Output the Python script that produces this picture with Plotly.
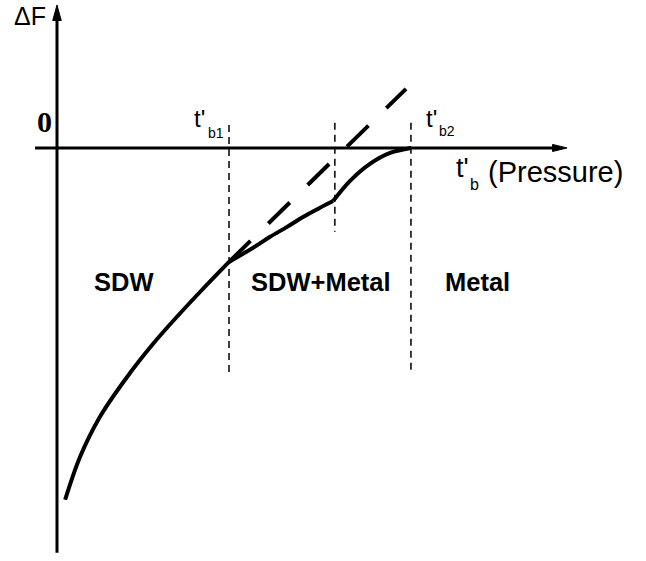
import plotly.graph_objects as go

# Free-energy curve, t'_b scaled so that t'_b2 = 1 (Delta F in the same units)
sdw_t = [0.023, 0.065, 0.121, 0.198, 0.271, 0.328, 0.404, 0.486]
sdw_F = [-0.994, -0.873, -0.760, -0.647, -0.554, -0.489, -0.407, -0.322]
mix_t = [0.486, 0.554, 0.602, 0.650, 0.695, 0.743, 0.780]
mix_F = [-0.322, -0.282, -0.251, -0.223, -0.195, -0.169, -0.150]
met_t = [0.780, 0.828, 0.884, 0.941, 1.0]
met_F = [-0.150, -0.093, -0.045, -0.014, 0.0]
# extrapolated (metastable) branch
ext_t = [0.486, 0.986]
ext_F = [-0.322, 0.167]
# phase boundaries
bound_t = [0.486, 0.785, 1.0]
bound_top = [0.065, 0.071, 0.071]
bound_bot = [-0.633, -0.237, -0.633]
# region labels
region_names = ["SDW", "SDW+Metal", "Metal"]
region_t = [0.189, 0.746, 1.188]
region_F = [-0.378, -0.378, -0.378]

BLACK = "#000000"
SANS = "Liberation Sans"
fig = go.Figure()

for tt, ff in [(sdw_t, sdw_F), (mix_t, mix_F), (met_t, met_F)]:
    fig.add_trace(go.Scatter(x=tt, y=ff, mode="lines",
                             line=dict(color=BLACK, width=4, shape="spline", smoothing=1.0),
                             showlegend=False, hoverinfo="skip"))

fig.add_trace(go.Scatter(x=ext_t, y=ext_F, mode="lines",
                         line=dict(color=BLACK, width=4, dash="30px,25px"),
                         showlegend=False, hoverinfo="skip"))

for bt, b0, b1 in zip(bound_t, bound_top, bound_bot):
    fig.add_trace(go.Scatter(x=[bt, bt], y=[b0, b1], mode="lines",
                             line=dict(color=BLACK, width=1.5, dash="7px,5px"),
                             showlegend=False, hoverinfo="skip"))

shapes = [
    # y axis
    dict(type="line", xref="x", yref="y", x0=0, x1=0, y0=-1.144, y1=0.37,
         line=dict(color=BLACK, width=3)),
    # x axis
    dict(type="line", xref="x", yref="y", x0=-0.062, x1=1.41, y0=0, y1=0,
         line=dict(color=BLACK, width=3)),
    # arrowheads
    dict(type="path", xref="x", yref="y",
         path="M -0.012 0.360 L 0 0.404 L 0.012 0.360 Z",
         fillcolor=BLACK, line=dict(color=BLACK, width=1)),
    dict(type="path", xref="x", yref="y",
         path="M 1.400 -0.010 L 1.441 0 L 1.400 0.010 Z",
         fillcolor=BLACK, line=dict(color=BLACK, width=1)),
]

ann = []
def txt(x, y, s, size, family=SANS, weight="normal", xanchor="left", yanchor="middle"):
    ann.append(dict(x=x, y=y, xref="x", yref="y", text=s, showarrow=False,
                    xanchor=xanchor, yanchor=yanchor,
                    font=dict(family=family, size=size, color=BLACK, weight=weight)))

txt(-0.076, 0.418, "ΔF", 25, xanchor="center", yanchor="top")
txt(-0.035, 0.074, "0", 30, family="Liberation Serif", weight="bold", xanchor="center")
txt(0.381, 0.082, "t'", 24)
txt(0.421, 0.042, "b1", 14)
txt(1.036, 0.082, "t'", 24)
txt(1.073, 0.048, "b2", 14)
txt(1.122, -0.056, "t'", 27)
txt(1.161, -0.104, "b", 16)
txt(1.213, -0.068, "(Pressure)", 29)
for name, rt, rf in zip(region_names, region_t, region_F):
    txt(rt, rf, name, 25.5, weight="bold", xanchor="center")

fig.update_layout(
    width=646, height=561, margin=dict(l=0, r=0, t=0, b=0),
    paper_bgcolor="white", plot_bgcolor="white",
    xaxis=dict(range=[-0.161, 1.664], visible=False, fixedrange=True),
    yaxis=dict(range=[-1.167, 0.418], visible=False, fixedrange=True),
    shapes=shapes, annotations=ann, showlegend=False,
)

fig.write_html("out.html",
               config=dict(displayModeBar=False, staticPlot=True),
               post_script="document.body.style.margin='0';"
                           "document.documentElement.style.overflow='hidden';")
